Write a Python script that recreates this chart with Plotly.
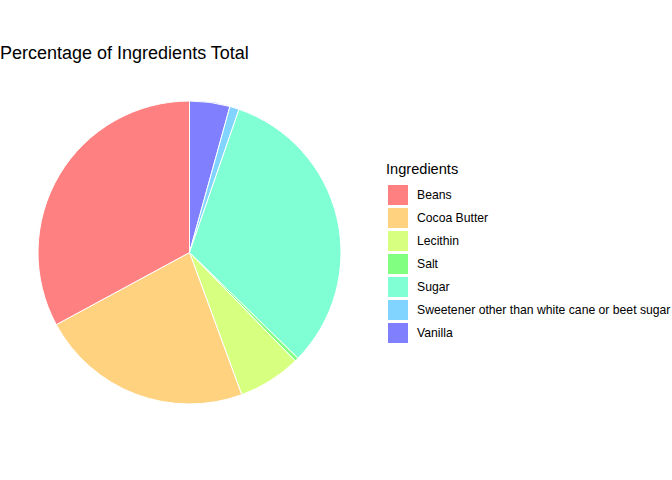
import plotly.graph_objects as go

ingredients = ["Beans", "Cocoa Butter", "Lecithin", "Salt", "Sugar",
               "Sweetener other than white cane or beet sugar", "Vanilla"]
percentages = [32.9, 22.7, 6.7, 0.4, 32.0, 1.0, 4.3]
colors = ["#FF8080", "#FFD280", "#D7FF80", "#80FF80", "#80FFD4", "#80D4FF", "#8080FF"]
legend_title = "Ingredients"
chart_title = "Percentage of Ingredients Total"

W, H = 672, 480
cx, cy, r = 189.5, 252.5, 151.5


def px(x):
    return x / W


def py(y):
    return 1 - y / H


# ggplot2 coord_polar stacks the last level first, clockwise from 12 o'clock
fig = go.Figure(go.Pie(
    labels=ingredients[::-1],
    values=percentages[::-1],
    sort=False,
    direction="clockwise",
    rotation=0,
    textinfo="none",
    hoverinfo="label+percent",
    marker=dict(colors=colors[::-1], line=dict(color="white", width=1)),
    domain=dict(x=[px(cx - r), px(cx + r)], y=[py(cy + r), py(cy - r)]),
    showlegend=False,
))

# legend drawn in ggplot2 style: 20px keys, 23px pitch
key_x0, key_top, key_size, pitch = 388, 185, 20, 23
shapes = []
annotations = [dict(text=legend_title, x=px(384), y=py(169), xref="paper", yref="paper",
                    xanchor="left", yanchor="middle", showarrow=False,
                    font=dict(size=14.6, color="black"))]
for i, (name, col) in enumerate(zip(ingredients, colors)):
    top = key_top + i * pitch
    shapes.append(dict(type="rect", xref="paper", yref="paper",
                       x0=px(key_x0), x1=px(key_x0 + key_size),
                       y0=py(top + key_size), y1=py(top),
                       fillcolor=col, line=dict(width=0)))
    annotations.append(dict(text=name, x=px(415), y=py(top + key_size / 2),
                            xref="paper", yref="paper", xanchor="left", yanchor="middle",
                            showarrow=False, font=dict(size=12.2, color="black")))

fig.update_layout(
    width=W, height=H,
    margin=dict(l=0, r=0, t=0, b=0),
    paper_bgcolor="white",
    font=dict(family="Liberation Sans, Arial, sans-serif", color="black"),
    title=dict(text=chart_title, x=0, xref="paper", xanchor="left",
               y=py(53), yref="paper", yanchor="middle",
               font=dict(size=18, color="black")),
    shapes=shapes,
    annotations=annotations,
)

fig.write_html("out.html")
